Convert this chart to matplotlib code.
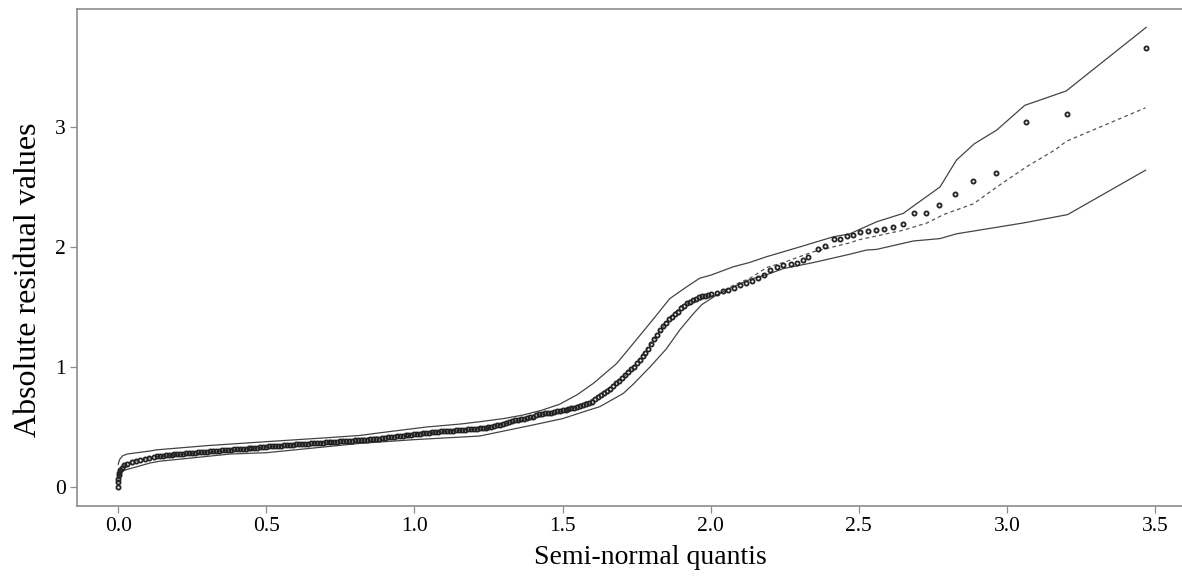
import matplotlib
matplotlib.use("Agg")
import matplotlib.pyplot as plt

# observed absolute residuals (read off the reference)
# the first stretch near x = 0 where the points stack up
start_x = [0.000, 0.000, 0.001, 0.002, 0.004, 0.007, 0.012, 0.020, 0.030, 0.045,
           0.060, 0.075, 0.090, 0.105, 0.120]
start_y = [0.00, 0.04, 0.07, 0.10, 0.12, 0.14, 0.16, 0.18, 0.195, 0.205,
           0.215, 0.225, 0.235, 0.245, 0.253]

# the dense band, read every 0.01 along x
dense_x = [0.13, 0.14, 0.15, 0.16, 0.17, 0.18, 0.19, 0.20,
           0.21, 0.22, 0.23, 0.24, 0.25, 0.26, 0.27, 0.28, 0.29, 0.30,
           0.31, 0.32, 0.33, 0.34, 0.35, 0.36, 0.37, 0.38, 0.39, 0.40,
           0.41, 0.42, 0.43, 0.44, 0.45, 0.46, 0.47, 0.48, 0.49, 0.50,
           0.51, 0.52, 0.53, 0.54, 0.55, 0.56, 0.57, 0.58, 0.59, 0.60,
           0.61, 0.62, 0.63, 0.64, 0.65, 0.66, 0.67, 0.68, 0.69, 0.70,
           0.71, 0.72, 0.73, 0.74, 0.75, 0.76, 0.77, 0.78, 0.79, 0.80,
           0.81, 0.82, 0.83, 0.84, 0.85, 0.86, 0.87, 0.88, 0.89, 0.90,
           0.91, 0.92, 0.93, 0.94, 0.95, 0.96, 0.97, 0.98, 0.99, 1.00,
           1.01, 1.02, 1.03, 1.04, 1.05, 1.06, 1.07, 1.08, 1.09, 1.10,
           1.11, 1.12, 1.13, 1.14, 1.15, 1.16, 1.17, 1.18, 1.19, 1.20,
           1.21, 1.22, 1.23, 1.24, 1.25, 1.26, 1.27, 1.28, 1.29, 1.30,
           1.31, 1.32, 1.33, 1.34, 1.35, 1.36, 1.37, 1.38, 1.39, 1.40,
           1.41, 1.42, 1.43, 1.44, 1.45, 1.46, 1.47, 1.48, 1.49, 1.50,
           1.51, 1.52, 1.53, 1.54, 1.55, 1.56, 1.57, 1.58, 1.59, 1.60,
           1.61, 1.62, 1.63, 1.64, 1.65, 1.66, 1.67, 1.68, 1.69, 1.70,
           1.71, 1.72, 1.73, 1.74, 1.75, 1.76, 1.77, 1.78, 1.79, 1.80,
           1.81, 1.82, 1.83, 1.84, 1.85, 1.86, 1.87, 1.88, 1.89, 1.90,
           1.91, 1.92, 1.93, 1.94, 1.95, 1.96, 1.97, 1.98, 1.99, 2.00]
dense_y = [0.256, 0.259, 0.262, 0.264, 0.267, 0.270, 0.272, 0.275,
           0.277, 0.279, 0.281, 0.283, 0.285, 0.287, 0.289, 0.291, 0.293, 0.295,
           0.297, 0.299, 0.301, 0.303, 0.305, 0.307, 0.309, 0.311, 0.313, 0.315,
           0.317, 0.319, 0.321, 0.323, 0.325, 0.327, 0.329, 0.331, 0.334, 0.336,
           0.338, 0.340, 0.342, 0.344, 0.346, 0.348, 0.350, 0.351, 0.353, 0.355,
           0.357, 0.358, 0.360, 0.362, 0.363, 0.365, 0.367, 0.369, 0.370, 0.372,
           0.374, 0.375, 0.377, 0.378, 0.380, 0.382, 0.383, 0.385, 0.386, 0.388,
           0.390, 0.392, 0.393, 0.395, 0.397, 0.399, 0.401, 0.404, 0.407, 0.410,
           0.413, 0.416, 0.419, 0.422, 0.425, 0.428, 0.431, 0.434, 0.437, 0.440,
           0.443, 0.445, 0.448, 0.450, 0.453, 0.455, 0.458, 0.460, 0.463, 0.465,
           0.467, 0.469, 0.471, 0.473, 0.475, 0.477, 0.478, 0.480, 0.481, 0.483,
           0.485, 0.488, 0.491, 0.494, 0.498, 0.503, 0.508, 0.513, 0.519, 0.525,
           0.532, 0.540, 0.548, 0.555, 0.560, 0.565, 0.570, 0.575, 0.580, 0.585,
           0.598, 0.608, 0.612, 0.615, 0.618, 0.620, 0.625, 0.630, 0.635, 0.640,
           0.645, 0.650, 0.655, 0.660, 0.666, 0.672, 0.680, 0.690, 0.700, 0.710,
           0.730, 0.750, 0.765, 0.780, 0.800, 0.820, 0.840, 0.865, 0.885, 0.910,
           0.930, 0.955, 0.980, 1.000, 1.030, 1.060, 1.090, 1.120, 1.150, 1.190,
           1.230, 1.270, 1.310, 1.340, 1.370, 1.400, 1.420, 1.440, 1.460, 1.490,
           1.510, 1.530, 1.545, 1.560, 1.570, 1.580, 1.590, 1.595, 1.600, 1.610]

# thinner stretch and the isolated tail points
tail_x = [2.02, 2.04, 2.06, 2.08, 2.10, 2.12, 2.14, 2.16, 2.18, 2.20, 2.225,
          2.245, 2.27, 2.29, 2.31, 2.33, 2.363, 2.386, 2.416, 2.437, 2.459, 2.48,
          2.504, 2.53, 2.557, 2.586, 2.617, 2.65, 2.686, 2.728, 2.772, 2.826,
          2.887, 2.963, 3.063, 3.203, 3.468]
tail_y = [1.620, 1.635, 1.645, 1.660, 1.680, 1.700, 1.720, 1.745, 1.765, 1.810,
          1.835, 1.850, 1.860, 1.870, 1.890, 1.914, 1.980, 2.010, 2.070, 2.070,
          2.090, 2.100, 2.125, 2.130, 2.140, 2.147, 2.170, 2.190, 2.280, 2.286,
          2.350, 2.440, 2.550, 2.620, 3.040, 3.110, 3.655]

# simulated envelope: upper, median (dashed), lower
up_x = [0.0, 0.005, 0.015, 0.03, 0.107, 0.13, 0.3, 0.5, 0.7, 0.817, 0.884,
        1.04, 1.155, 1.22, 1.3, 1.367, 1.43, 1.49, 1.55, 1.604, 1.683, 1.74,
        1.80, 1.862, 1.92, 1.963, 2.0, 2.076, 2.13, 2.19, 2.30, 2.414, 2.47,
        2.56, 2.65, 2.695, 2.774, 2.83, 2.89, 2.966, 3.06, 3.20, 3.47]
up_y = [0.19, 0.23, 0.26, 0.275, 0.30, 0.31, 0.345, 0.378, 0.41, 0.43, 0.452,
        0.50, 0.525, 0.544, 0.57, 0.60, 0.64, 0.69, 0.77, 0.864, 1.03, 1.20,
        1.38, 1.57, 1.67, 1.74, 1.765, 1.835, 1.87, 1.92, 2.00, 2.085, 2.11,
        2.21, 2.28, 2.36, 2.50, 2.725, 2.86, 2.975, 3.18, 3.30, 3.83]

mid_x = [0.0, 0.03, 0.12, 0.5, 1.0, 1.2, 1.4, 1.5, 1.6, 1.7, 1.75, 1.8, 1.85,
         1.9, 2.02, 2.076, 2.133, 2.19, 2.245, 2.346, 2.47, 2.5, 2.65, 2.73,
         2.786, 2.887, 2.966, 3.067, 3.163, 3.20, 3.468]
mid_y = [0.13, 0.20, 0.25, 0.333, 0.445, 0.485, 0.57, 0.63, 0.73, 0.90, 1.03,
         1.20, 1.37, 1.51, 1.60, 1.68, 1.74, 1.83, 1.87, 1.96, 2.035, 2.06,
         2.14, 2.20, 2.27, 2.36, 2.50, 2.67, 2.81, 2.88, 3.16]

lo_x = [0.0, 0.005, 0.02, 0.05, 0.107, 0.14, 0.378, 0.5, 0.817, 1.0, 1.22,
        1.40, 1.5, 1.59, 1.626, 1.705, 1.74, 1.795, 1.85, 1.896, 1.94, 1.97,
        2.02, 2.06, 2.133, 2.19, 2.245, 2.346, 2.47, 2.527, 2.56, 2.684, 2.774,
        2.83, 3.055, 3.205, 3.468]
lo_y = [0.07, 0.11, 0.14, 0.16, 0.20, 0.215, 0.275, 0.286, 0.364, 0.395, 0.425,
        0.517, 0.57, 0.642, 0.67, 0.78, 0.86, 1.00, 1.15, 1.31, 1.44, 1.52,
        1.60, 1.65, 1.73, 1.77, 1.82, 1.87, 1.94, 1.975, 1.98, 2.05, 2.07,
        2.11, 2.20, 2.27, 2.64]

obs_x = start_x + dense_x + tail_x
obs_y = start_y + dense_y + tail_y

plt.rcParams['font.family'] = ['Liberation Serif', 'DejaVu Serif']

fig = plt.figure(figsize=(11.82, 5.76), dpi=100)
ax = fig.add_axes([77 / 1182, 1 - 506 / 576, 1 - 77 / 1182, (506 - 9) / 576])

ax.plot(up_x, up_y, color='#444444', lw=0.9)
ax.plot(lo_x, lo_y, color='#444444', lw=0.9)
ax.plot(mid_x, mid_y, color='#555555', lw=0.9, ls=(0, (3, 2.5)))
ax.plot(obs_x, obs_y, ls='none', marker='o', ms=3.0, mfc='none',
        mec='#222222', mew=1.3)

ax.set_xlim(-0.139, 3.591)
ax.set_ylim(-0.158, 3.983)
ax.set_xticks([0.0, 0.5, 1.0, 1.5, 2.0, 2.5, 3.0, 3.5])
ax.set_xticklabels(['0.0', '0.5', '1.0', '1.5', '2.0', '2.5', '3.0', '3.5'])
ax.set_yticks([0, 1, 2, 3])

for s in ['left', 'bottom', 'top']:
    ax.spines[s].set_color('#8c8c8c')
    ax.spines[s].set_linewidth(1.2)
ax.spines['right'].set_visible(False)
ax.tick_params(direction='out', length=5, width=0.9, color='#8c8c8c',
               labelsize=15.5, pad=3)

ax.set_xlabel('Semi-normal quantis', fontsize=20)
ax.set_ylabel('Absolute residual values', fontsize=23)
ax.xaxis.set_label_coords(0.5186, -0.078)
ax.yaxis.set_label_coords(-0.031, 0.455)

fig.savefig('out.png', dpi=100)
